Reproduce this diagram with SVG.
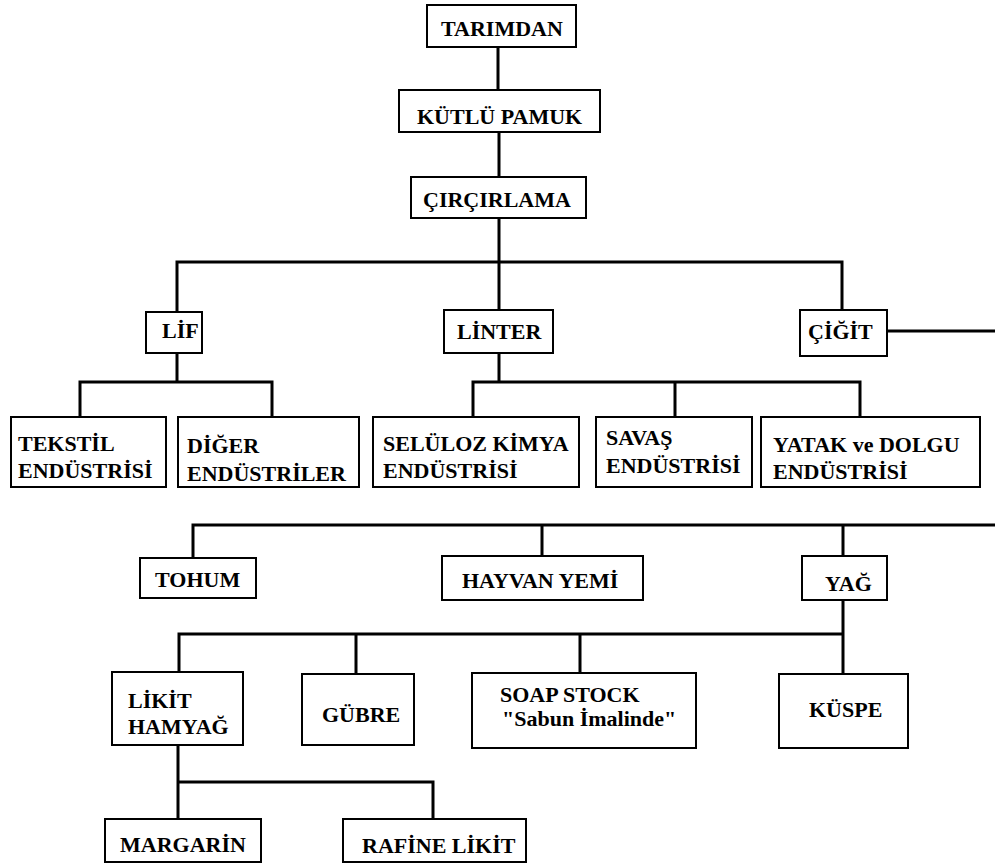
<svg xmlns="http://www.w3.org/2000/svg" width="995" height="867" viewBox="0 0 995 867">
<style>
.box{fill:#fff;stroke:#000;stroke-width:2}
.t{font-family:'Liberation Serif','Times New Roman','DejaVu Serif',serif;font-weight:700;font-size:22px;fill:#000}
.c{fill:none;stroke:#000;stroke-width:3;stroke-linecap:square}
</style>
<rect width="995" height="867" fill="#fff"/>
<g id="connectors">
<path class="c" d="M498,47V90M499,132V177M499,218V310"/>
<path class="c" d="M177,312V262H842V310"/>
<path class="c" d="M177,353V382M80,417V382H272V417"/>
<path class="c" d="M499,353V382M473,417V382H860V417M675,382V417"/>
<path class="c" d="M887,331H996"/>
<path class="c" d="M193,558V525H996M542,525V556M843,525V556"/>
<path class="c" d="M843,600V673M179,672V634H843M356,634V674M580,634V673"/>
<path class="c" d="M178,745V819M178,782H433V819"/>
</g>
<g id="tarimdan"><rect class="box" x="427" y="5" width="149" height="42"/><text class="t" x="441" y="36">TARIMDAN</text></g>
<g id="kutlu-pamuk"><rect class="box" x="399" y="90" width="201" height="42"/><text class="t" x="417" y="124">KÜTLÜ PAMUK</text></g>
<g id="circirlama"><rect class="box" x="411" y="177" width="175" height="41"/><text class="t" x="423" y="207">ÇIRÇIRLAMA</text></g>
<g id="lif"><rect class="box" x="146" y="312" width="56" height="41"/><text class="t" x="162" y="338">LİF</text></g>
<g id="linter"><rect class="box" x="444" y="310" width="109" height="43"/><text class="t" x="457" y="339">LİNTER</text></g>
<g id="cigit"><rect class="box" x="800" y="310" width="87" height="46"/><text class="t" x="808" y="339">ÇİĞİT</text></g>
<g id="tekstil"><rect class="box" x="11" y="417" width="155" height="70"/><text class="t" x="18" y="451">TEKSTİL</text><text class="t" x="18" y="478">ENDÜSTRİSİ</text></g>
<g id="diger"><rect class="box" x="178" y="417" width="181" height="70"/><text class="t" x="187" y="453">DİĞER</text><text class="t" x="187" y="481">ENDÜSTRİLER</text></g>
<g id="seluloz"><rect class="box" x="373" y="417" width="206" height="70"/><text class="t" x="383" y="451">SELÜLOZ KİMYA</text><text class="t" x="383" y="478">ENDÜSTRİSİ</text></g>
<g id="savas"><rect class="box" x="596" y="417" width="156" height="70"/><text class="t" x="606" y="445">SAVAŞ</text><text class="t" x="606" y="473">ENDÜSTRİSİ</text></g>
<g id="yatak"><rect class="box" x="761" y="417" width="219" height="70"/><text class="t" x="773" y="452">YATAK ve DOLGU</text><text class="t" x="773" y="479">ENDÜSTRİSİ</text></g>
<g id="tohum"><rect class="box" x="140" y="558" width="116" height="40"/><text class="t" x="155" y="587">TOHUM</text></g>
<g id="hayvan-yemi"><rect class="box" x="442" y="556" width="201" height="44"/><text class="t" x="462" y="588">HAYVAN YEMİ</text></g>
<g id="yag"><rect class="box" x="802" y="556" width="85" height="44"/><text class="t" x="825" y="591">YAĞ</text></g>
<g id="likit-hamyag"><rect class="box" x="112" y="672" width="131" height="73"/><text class="t" x="128" y="708">LİKİT</text><text class="t" x="128" y="734">HAMYAĞ</text></g>
<g id="gubre"><rect class="box" x="302" y="674" width="112" height="71"/><text class="t" x="322" y="722">GÜBRE</text></g>
<g id="soap-stock"><rect class="box" x="472" y="673" width="224" height="75"/><text class="t" x="500" y="702">SOAP STOCK</text><text class="t" x="502" y="726">"Sabun İmalinde"</text></g>
<g id="kuspe"><rect class="box" x="779" y="674" width="129" height="74"/><text class="t" x="809" y="717">KÜSPE</text></g>
<g id="margarin"><rect class="box" x="105" y="819" width="156" height="43"/><text class="t" x="120" y="852">MARGARİN</text></g>
<g id="rafine-likit"><rect class="box" x="343" y="819" width="183" height="43"/><text class="t" x="362" y="853">RAFİNE LİKİT</text></g>
</svg>
